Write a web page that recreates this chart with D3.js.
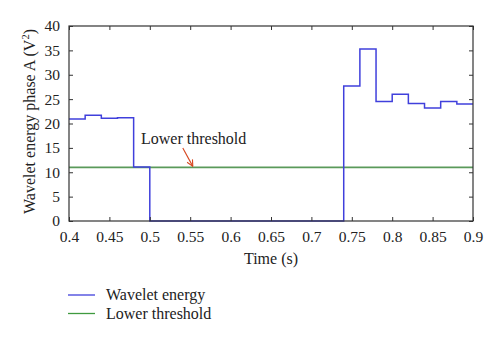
<!DOCTYPE html>
<html>
<head>
<meta charset="utf-8">
<script src="https://cdn.jsdelivr.net/npm/d3@7"></script>
<style>
  html, body { margin: 0; padding: 0; background: #fff; }
  svg text { font-family: "Liberation Serif", "DejaVu Serif", serif; fill: #222; }
</style>
</head>
<body>
<div id="chart"></div>
<script>
// step edges (s) and the energy held over each step (V^2)
const stepEdges = [0.40, 0.42, 0.44, 0.46, 0.48, 0.50, 0.74, 0.76, 0.78, 0.80, 0.82, 0.84, 0.86, 0.88, 0.90];
const energyValues = [20.9, 21.7, 21.1, 21.2, 11.1, 0, 27.7, 35.3, 24.5, 26.0, 24.1, 23.2, 24.5, 24.0];
const lowerThreshold = 11.0;
const xTicks = [0.4, 0.45, 0.5, 0.55, 0.6, 0.65, 0.7, 0.75, 0.8, 0.85, 0.9];
const yTicks = [0, 5, 10, 15, 20, 25, 30, 35, 40];
const legendItems = [
  { name: 'Wavelet energy', color: '#4040dc' },
  { name: 'Lower threshold', color: '#3f9a3f' }
];

const W = 500, H = 343;
const margin = { top: 26, right: 27, bottom: 122, left: 69 };
const width = W - margin.left - margin.right;
const height = H - margin.top - margin.bottom;
const serif = '"Liberation Serif", "DejaVu Serif", serif';

const svg = d3.select('#chart').append('svg')
  .attr('width', W)
  .attr('height', H);

const g = svg.append('g')
  .attr('transform', `translate(${margin.left},${margin.top})`);

const x = d3.scaleLinear().domain([0.4, 0.9]).range([0, width]);
const y = d3.scaleLinear().domain([0, 40]).range([height, 0]);

// threshold line
g.append('line')
  .attr('x1', x(0.4)).attr('x2', x(0.9))
  .attr('y1', y(lowerThreshold)).attr('y2', y(lowerThreshold))
  .attr('stroke', '#5a9a5a')
  .attr('stroke-width', 1.6);

// staircase of wavelet energy
const pts = [];
energyValues.forEach((v, i) => {
  pts.push([stepEdges[i], v]);
  pts.push([stepEdges[i + 1], v]);
});
g.append('path')
  .datum(pts)
  .attr('d', d3.line().x(d => x(d[0])).y(d => y(d[1])))
  .attr('fill', 'none')
  .attr('stroke', '#4040dc')
  .attr('stroke-width', 1.5);

// axes, ticks pointing inward on all four sides
const axisStyle = sel => {
  sel.attr('font-family', serif);
  sel.select('.domain').remove();
  sel.selectAll('line').attr('stroke', '#333');
  sel.selectAll('text').style('font-size', '15.5px').attr('fill', '#222');
};

g.append('g')
  .attr('transform', `translate(0,${height})`)
  .call(d3.axisBottom(x).tickValues(xTicks).tickSize(-4).tickPadding(10).tickFormat(d3.format('')))
  .call(axisStyle);

g.append('g')
  .call(d3.axisTop(x).tickValues(xTicks).tickSize(-4).tickFormat(''))
  .call(axisStyle);

g.append('g')
  .call(d3.axisLeft(y).tickValues(yTicks).tickSize(-4).tickPadding(9))
  .call(axisStyle);

g.append('g')
  .attr('transform', `translate(${width},0)`)
  .call(d3.axisRight(y).tickValues(yTicks).tickSize(-4).tickFormat(''))
  .call(axisStyle);

g.append('rect')
  .attr('width', width)
  .attr('height', height)
  .attr('fill', 'none')
  .attr('stroke', '#333')
  .attr('stroke-width', 1.2);

// annotation for the threshold
g.append('text')
  .attr('x', x(0.4) + 72)
  .attr('y', 118)
  .style('font-size', '16px')
  .text('Lower threshold');

const ax0 = x(0.5) + 33, ay0 = 122, ax1 = x(0.5) + 43, ay1 = y(lowerThreshold) - 1;
const ang = Math.atan2(ay1 - ay0, ax1 - ax0);
g.append('line')
  .attr('x1', ax0).attr('y1', ay0)
  .attr('x2', ax1).attr('y2', ay1)
  .attr('stroke', '#d6461e')
  .attr('stroke-width', 1.1);
[-1, 1].forEach(s => {
  const a = ang + Math.PI + s * 0.45;
  g.append('line')
    .attr('x1', ax1).attr('y1', ay1)
    .attr('x2', ax1 + 7 * Math.cos(a)).attr('y2', ay1 + 7 * Math.sin(a))
    .attr('stroke', '#d6461e')
    .attr('stroke-width', 1.1);
});

// axis titles
g.append('text')
  .attr('x', width / 2)
  .attr('y', height + 43)
  .attr('text-anchor', 'middle')
  .style('font-size', '16px')
  .text('Time (s)');

const yTitle = g.append('text')
  .attr('transform', `translate(-34,${height / 2 - 2}) rotate(-90)`)
  .attr('text-anchor', 'middle')
  .style('font-size', '16px');
yTitle.append('tspan').text('Wavelet energy phase A (V');
yTitle.append('tspan').attr('dy', -6).style('font-size', '10.5px').text('2');
yTitle.append('tspan').attr('dy', 6).text(')');

// legend
const legend = svg.append('g').attr('transform', 'translate(68,295)');
legendItems.forEach((d, i) => {
  const row = legend.append('g').attr('transform', `translate(0,${i * 18.5})`);
  row.append('line')
    .attr('x1', 0).attr('x2', 27)
    .attr('stroke', d.color)
    .attr('stroke-width', 1.3);
  row.append('text')
    .attr('x', 38)
    .attr('y', 5)
    .style('font-size', '16px')
    .text(d.name);
});
</script>
</body>
</html>
